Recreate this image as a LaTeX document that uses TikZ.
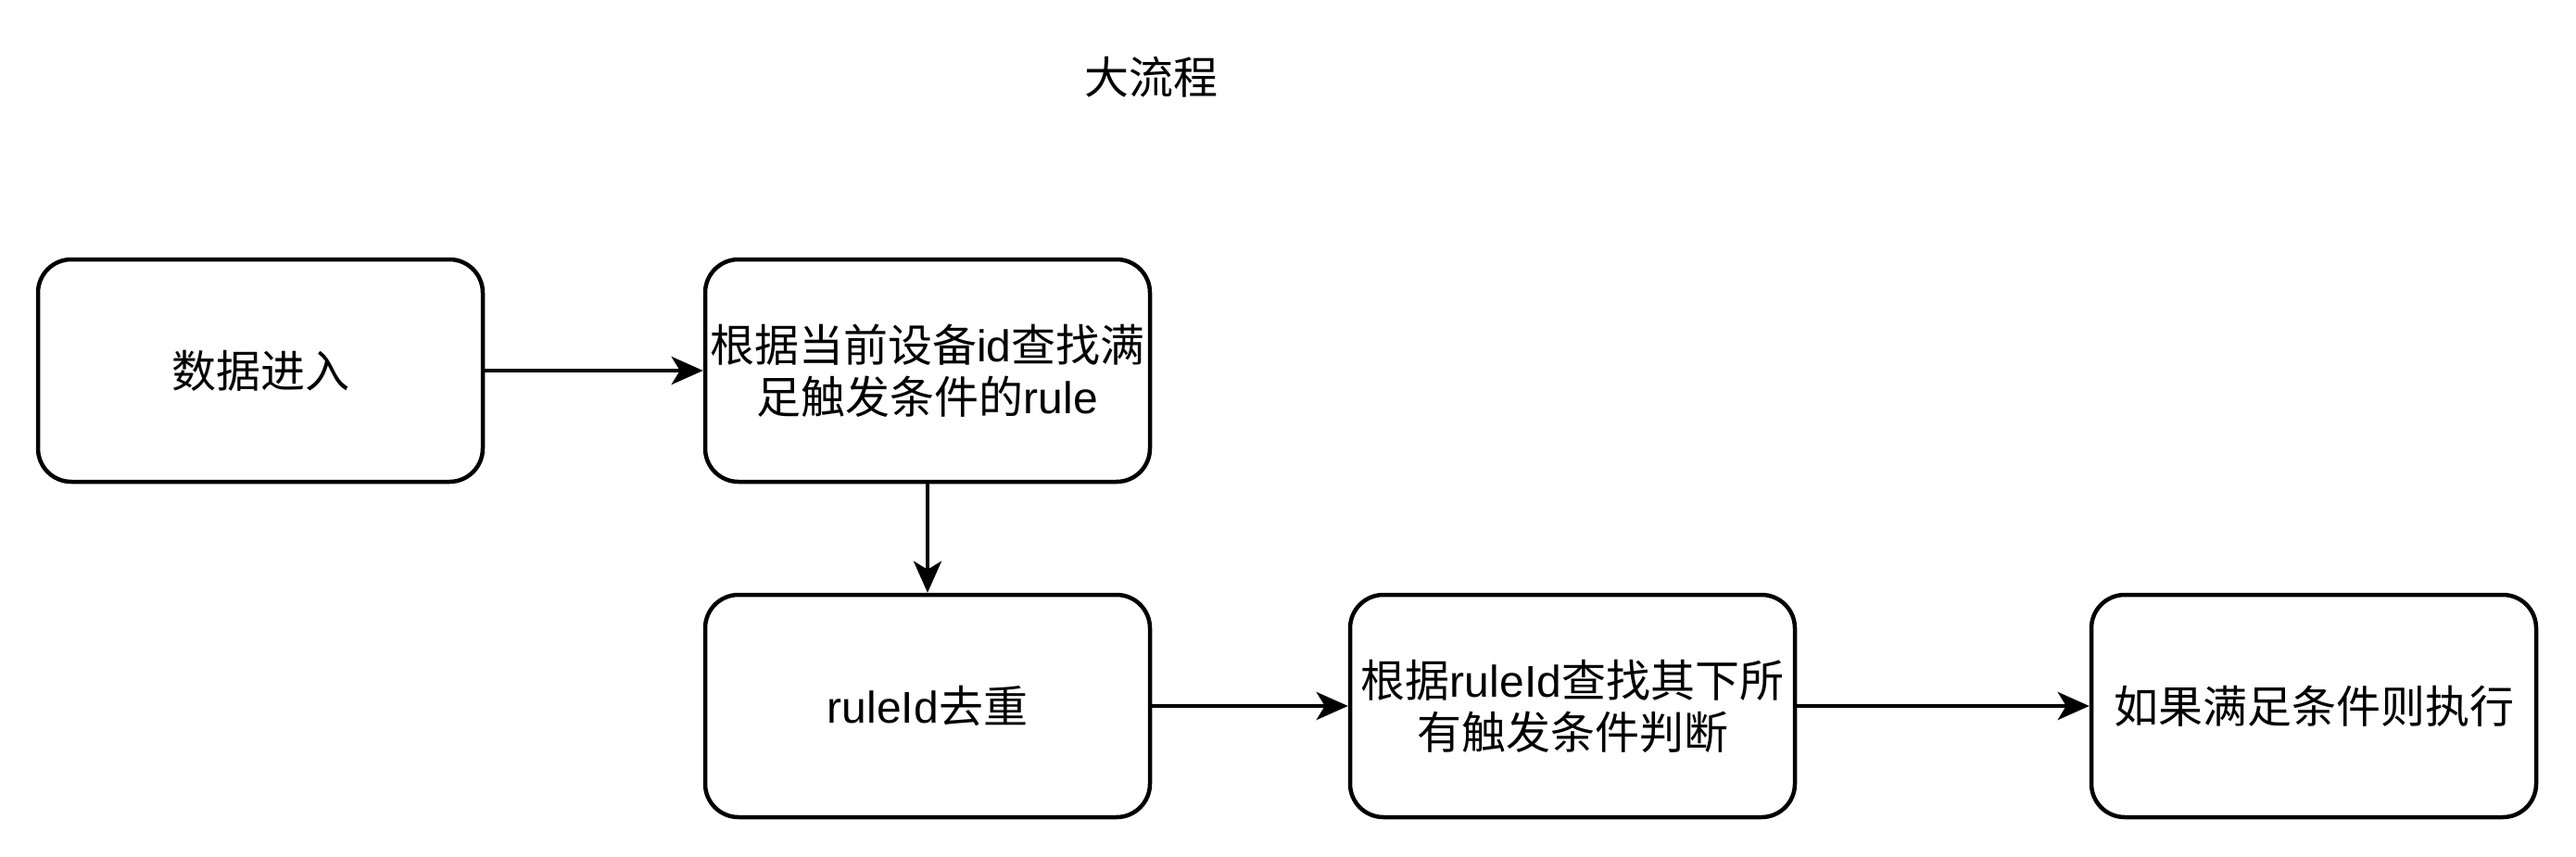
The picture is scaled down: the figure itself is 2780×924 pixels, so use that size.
\documentclass[tikz,border=0pt]{standalone}
\usepackage{fontspec}
\setmainfont{Liberation Sans}
\newfontfamily\cjk{Noto Sans CJK SC}
\usetikzlibrary{arrows.meta}
\begin{document}
\begin{tikzpicture}[x=1pt,y=-1pt,
  box/.style={draw=black, line width=4.5pt, rounded corners=36pt, minimum width=480pt, minimum height=240pt, inner sep=0pt, align=center, font=\fontsize{48pt}{56pt}\selectfont, fill=white},
  conn/.style={line width=4.5pt, -{Stealth[length=34pt,width=30pt,inset=9pt]}}]
\useasboundingbox (0,0) rectangle (2780,924);
\fill[white] (0,0) rectangle (2780,924);
\node[font=\fontsize{48pt}{56pt}\selectfont\cjk] (title) at (1242,83) {大流程};
\node[box] (a) at (281,400) {{\cjk 数据进入}};
\node[box] (b) at (1001,400) {{\cjk 根据当前设备}id{\cjk 查找满}\\{\cjk 足触发条件的}rule};
\node[box] (c) at (1001,762) {ruleId{\cjk 去重}};
\node[box] (d) at (1697,762) {{\cjk 根据}ruleId{\cjk 查找其下所}\\{\cjk 有触发条件判断}};
\node[box] (e) at (2497,762) {{\cjk 如果满足条件则执行}};
\draw[conn] (a) -- (b);
\draw[conn] (b) -- (c);
\draw[conn] (c) -- (d);
\draw[conn] (d) -- (e);
\end{tikzpicture}
\end{document}
